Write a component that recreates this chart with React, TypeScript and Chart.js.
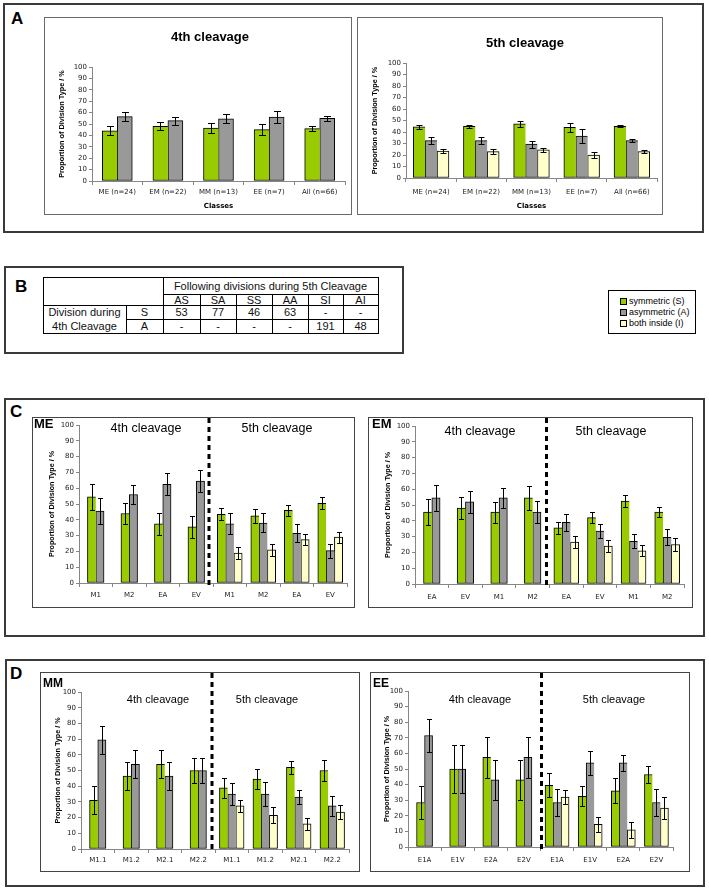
import React, { useEffect, useRef } from 'react';
import { Chart, registerables } from 'chart.js';

Chart.register(...registerables);

const GREEN = '#99cc00';
const GREY = '#999999';
const CREAM = '#ffffcc';
const TICK_FONT = 'DejaVu Sans';
const SANS = 'Liberation Sans';
const Y_TITLE = 'Proportion of Division Type / %';
const N = null;

// ---------- Panel A ----------
const classLabels = ['ME (n=24)', 'EM (n=22)', 'MM (n=13)', 'EE (n=7)', 'All (n=66)'];
const a4Sym = [44, 48, 46.5, 45, 46];
const a4SymErr = [4, 3.7, 4.4, 5, 2];
const a4Asym = [56.5, 53, 54.5, 56, 55];
const a4AsymErr = [4, 3.5, 4, 5.5, 2];
const a5Sym = [44.5, 45, 47, 44, 45];
const a5SymErr = [1.5, 1.5, 2.5, 4, 1];
const a5Asym = [32.5, 32.5, 29.5, 36.5, 32.5];
const a5AsymErr = [3.3, 3, 3, 6, 1.5];
const a5Inside = [23.5, 23, 24.5, 20, 23];
const a5InsideErr = [2, 2, 1.5, 3, 1];

// ---------- Panel B ----------
const bHeader = 'Following divisions during 5th Cleavage';
const bColumns = ['AS', 'SA', 'SS', 'AA', 'SI', 'AI'];
const bRowS = ['53', '77', '46', '63', '-', '-'];
const bRowA = ['-', '-', '-', '-', '191', '48'];

// ---------- Legend ----------
const legendLabels = ['symmetric (S)', 'asymmetric (A)', 'both inside (I)'];
const legendColors = [GREEN, GREY, CREAM];

// ---------- Panel C: ME ----------
const meLabels = ['M1', 'M2', 'EA', 'EV', 'M1', 'M2', 'EA', 'EV'];
const meSym = [54.5, 44, 37.5, 35.5, 43.5, 42.5, 46, 50.5];
const meSymErr = [8, 6.5, 7, 7, 3.7, 4.5, 3.6, 3.8];
const meAsym = [45.5, 56, 62.5, 64.5, 37.5, 38, 31.5, 20.5];
const meAsymErr = [8, 6.3, 7, 7, 6.5, 6, 5.7, 4.5];
const meInside = [N, N, N, N, 19, 21, 27.5, 29];
const meInsideErr = [N, N, N, N, 4, 3.8, 3.7, 3.5];

// ---------- Panel C: EM ----------
const emLabels = ['EA', 'EV', 'M1', 'M2', 'EA', 'EV', 'M1', 'M2'];
const emSym = [45.5, 48, 45.5, 54.5, 35.5, 42, 52.5, 45.5];
const emSymErr = [8, 7, 6.7, 7.5, 3.6, 3.5, 4, 3.4];
const emAsym = [54.5, 52, 54.5, 45.5, 39, 33.5, 27, 29.5];
const emAsymErr = [8, 6.8, 6.5, 7, 5.5, 4.6, 4.4, 5];
const emInside = [N, N, N, N, 26.5, 24, 21, 25];
const emInsideErr = [N, N, N, N, 4, 3.8, 3.5, 4.3];

// ---------- Panel D: MM ----------
const mmLabels = ['M1.1', 'M1.2', 'M2.1', 'M2.2', 'M1.1', 'M1.2', 'M2.1', 'M2.2'];
const mmSym = [31, 46.5, 54, 50, 39, 44.5, 52, 50];
const mmSymErr = [9, 9, 9, 8, 6.5, 6.5, 4.2, 6.5];
const mmAsym = [69.5, 54, 46.5, 50, 35, 35, 33, 27.5];
const mmAsymErr = [9, 9, 9, 8, 7, 7.4, 4.5, 6.5];
const mmInside = [N, N, N, N, 27.5, 21.5, 16, 23.5];
const mmInsideErr = [N, N, N, N, 3.8, 5, 4, 4.6];

// ---------- Panel D: EE ----------
const eeLabels = ['E1A', 'E1V', 'E2A', 'E2V', 'E1A', 'E1V', 'E2A', 'E2V'];
const eeSym = [28.5, 50, 57.5, 43, 39.5, 32.5, 36, 46.5];
const eeSymErr = [10.3, 15.3, 13, 13, 7.7, 6.4, 8, 5.6];
const eeAsym = [71.5, 50, 43, 57.5, 28.5, 54, 54, 28.5];
const eeAsymErr = [10.3, 15.3, 13, 13, 8.5, 7.6, 5.2, 8.5];
const eeInside = [N, N, N, N, 32, 14.5, 11, 25];
const eeInsideErr = [N, N, N, N, 4.5, 5, 5.3, 7.3];

type Series = { data: (number | null)[]; err: (number | null)[]; color: string };
type TextItem = { text: string; x: number; y: number; font: string; align?: CanvasTextAlign };
type Spec = {
  box: { x: number; y: number; w: number; h: number };
  area: { l: number; t: number; r: number; b: number };
  labels: string[];
  series: Series[];
  barW: number;
  capW: number;
  yTitleX: number;
  yTitleSize: number;
  xTitle?: string;
  xTitleY?: number;
  xLabelPad: number;
  tickSize: number;
  texts: TextItem[];
  divider?: { offset: number; top: number };
  borderColor: string;
};

const specs: Spec[] = [
  {
    box: { x: 44, y: 17, w: 308, h: 198 },
    area: { l: 92, t: 67, r: 345, b: 181 },
    labels: classLabels,
    series: [
      { data: a4Sym, err: a4SymErr, color: GREEN },
      { data: a4Asym, err: a4AsymErr, color: GREY },
    ],
    barW: 15, capW: 7, yTitleX: 62, yTitleSize: 7.3,
    xTitle: 'Classes', xTitleY: 206, xLabelPad: 3, tickSize: 7,
    texts: [{ text: '4th cleavage', x: 210, y: 37, font: `bold 13px ${SANS}` }],
    borderColor: '#6a6a6a',
  },
  {
    box: { x: 357, y: 17, w: 306, h: 198 },
    area: { l: 406, t: 63, r: 657, b: 178 },
    labels: classLabels,
    series: [
      { data: a5Sym, err: a5SymErr, color: GREEN },
      { data: a5Asym, err: a5AsymErr, color: GREY },
      { data: a5Inside, err: a5InsideErr, color: CREAM },
    ],
    barW: 11.9, capW: 6, yTitleX: 375, yTitleSize: 7.3,
    xTitle: 'Classes', xTitleY: 206, xLabelPad: 6, tickSize: 7,
    texts: [{ text: '5th cleavage', x: 525, y: 43, font: `bold 13px ${SANS}` }],
    borderColor: '#6a6a6a',
  },
  {
    box: { x: 32, y: 417, w: 323, h: 191 },
    area: { l: 79, t: 425, r: 347, b: 583 },
    labels: meLabels,
    series: [
      { data: meSym, err: meSymErr, color: GREEN },
      { data: meAsym, err: meAsymErr, color: GREY },
      { data: meInside, err: meInsideErr, color: CREAM },
    ],
    barW: 8.3, capW: 5, yTitleX: 52, yTitleSize: 7.2, xLabelPad: 4, tickSize: 7,
    texts: [
      { text: 'ME', x: 34, y: 424, font: `bold 13px ${SANS}`, align: 'left' },
      { text: '4th cleavage', x: 146, y: 429, font: `12.5px ${SANS}` },
      { text: '5th cleavage', x: 277, y: 429, font: `12.5px ${SANS}` },
    ],
    divider: { offset: -4, top: 418 },
    borderColor: '#444',
  },
  {
    box: { x: 368, y: 417, w: 325, h: 191 },
    area: { l: 415, t: 426, r: 684, b: 584 },
    labels: emLabels,
    series: [
      { data: emSym, err: emSymErr, color: GREEN },
      { data: emAsym, err: emAsymErr, color: GREY },
      { data: emInside, err: emInsideErr, color: CREAM },
    ],
    barW: 8.3, capW: 5, yTitleX: 388, yTitleSize: 7.2, xLabelPad: 5, tickSize: 7,
    texts: [
      { text: 'EM', x: 372, y: 424, font: `bold 13px ${SANS}`, align: 'left' },
      { text: '4th cleavage', x: 480, y: 432, font: `12.5px ${SANS}` },
      { text: '5th cleavage', x: 611, y: 432, font: `12.5px ${SANS}` },
    ],
    divider: { offset: -3, top: 418 },
    borderColor: '#444',
  },
  {
    box: { x: 40, y: 672, w: 320, h: 200 },
    area: { l: 81, t: 692, r: 349, b: 849 },
    labels: mmLabels,
    series: [
      { data: mmSym, err: mmSymErr, color: GREEN },
      { data: mmAsym, err: mmAsymErr, color: GREY },
      { data: mmInside, err: mmInsideErr, color: CREAM },
    ],
    barW: 8.2, capW: 5, yTitleX: 58, yTitleSize: 7.2, xLabelPad: 3, tickSize: 7,
    texts: [
      { text: 'MM', x: 43, y: 684, font: `bold 12px ${SANS}`, align: 'left' },
      { text: '4th cleavage', x: 158, y: 700, font: `11px ${SANS}` },
      { text: '5th cleavage', x: 267, y: 700, font: `11px ${SANS}` },
    ],
    divider: { offset: -3, top: 673 },
    borderColor: '#444',
  },
  {
    box: { x: 370, y: 672, w: 320, h: 200 },
    area: { l: 408, t: 691, r: 673, b: 847 },
    labels: eeLabels,
    series: [
      { data: eeSym, err: eeSymErr, color: GREEN },
      { data: eeAsym, err: eeAsymErr, color: GREY },
      { data: eeInside, err: eeInsideErr, color: CREAM },
    ],
    barW: 8, capW: 5, yTitleX: 387, yTitleSize: 7.2, xLabelPad: 5, tickSize: 7,
    texts: [
      { text: 'EE', x: 373, y: 684, font: `bold 12px ${SANS}`, align: 'left' },
      { text: '4th cleavage', x: 480, y: 700, font: `11px ${SANS}` },
      { text: '5th cleavage', x: 614, y: 700, font: `11px ${SANS}` },
    ],
    divider: { offset: 1, top: 673 },
    borderColor: '#444',
  },
];

function BarPanel({ spec }: { spec: Spec }) {
  const ref = useRef<HTMLCanvasElement>(null);
  useEffect(() => {
    if (!ref.current) return;
    const { box, area } = spec;
    const extras = {
      id: 'extras',
      afterDatasetsDraw(chart: any) {
        const ctx = chart.ctx;
        const ys = chart.scales.y;
        ctx.save();
        ctx.strokeStyle = '#000';
        ctx.lineWidth = 1;
        chart.data.datasets.forEach((ds: any, di: number) => {
          const meta = chart.getDatasetMeta(di);
          const errs = spec.series[di].err;
          meta.data.forEach((el: any, i: number) => {
            const v = ds.data[i];
            const e = errs[i];
            if (v == null || e == null) return;
            const x = Math.round(el.x) + 0.5;
            const yt = Math.round(ys.getPixelForValue(v + e)) + 0.5;
            const yb = Math.round(ys.getPixelForValue(v - e)) + 0.5;
            const c = spec.capW / 2;
            ctx.beginPath();
            ctx.moveTo(x, yt); ctx.lineTo(x, yb);
            ctx.moveTo(x - c, yt); ctx.lineTo(x + c, yt);
            ctx.moveTo(x - c, yb); ctx.lineTo(x + c, yb);
            ctx.stroke();
          });
        });
        ctx.restore();
      },
      afterDraw(chart: any) {
        const ctx = chart.ctx;
        ctx.save();
        if (spec.divider) {
          const xs = chart.scales.x;
          const mid = (xs.getPixelForValue(3) + xs.getPixelForValue(4)) / 2 + spec.divider.offset;
          ctx.strokeStyle = '#000';
          ctx.lineWidth = 3;
          ctx.setLineDash([5, 4]);
          ctx.beginPath();
          ctx.moveTo(mid, spec.divider.top - box.y);
          ctx.lineTo(mid, chart.chartArea.bottom + 3);
          ctx.stroke();
          ctx.setLineDash([]);
        }
        ctx.fillStyle = '#000';
        ctx.textBaseline = 'middle';
        spec.texts.forEach((t) => {
          ctx.font = t.font;
          ctx.textAlign = t.align || 'center';
          ctx.fillText(t.text, t.x - box.x, t.y - box.y);
        });
        ctx.restore();
      },
    };

    const n = spec.series.length;
    const datasets = spec.series.map((s, di) => ({
      data: s.data,
      backgroundColor: s.color,
      borderColor: '#000',
      borderSkipped: false,
      borderWidth: (c: any) => {
        const i = c.dataIndex;
        let last = true;
        for (let k = di + 1; k < n; k++) if (spec.series[k].data[i] != null) last = false;
        return { top: 1, left: 1, bottom: 1, right: last ? 1 : 0 };
      },
      barThickness: spec.barW,
      skipNull: true,
    }));

    const xTitleLH = 7 * 1.2;
    const yTitleLH = spec.yTitleSize * 1.2;
    const chart = new Chart(ref.current, {
      type: 'bar',
      data: { labels: spec.labels, datasets },
      options: {
        animation: false,
        responsive: false,
        maintainAspectRatio: false,
        layout: {
          padding: { left: 0, top: area.t - box.y, right: box.x + box.w - area.r, bottom: 0 },
        },
        plugins: { legend: { display: false }, tooltip: { enabled: false }, title: { display: false } },
        scales: {
          x: {
            type: 'category',
            offset: true,
            ticks: {
              font: { family: TICK_FONT, size: spec.tickSize },
              color: '#1a1a1a',
              padding: spec.xLabelPad,
              autoSkip: false,
              maxRotation: 0,
            },
            grid: { display: true, drawOnChartArea: false, drawTicks: true, tickLength: 4, color: '#868686', offset: true },
            border: { display: true, color: '#868686' },
            title: spec.xTitle
              ? {
                  display: true,
                  text: spec.xTitle,
                  font: { family: TICK_FONT, size: 7, weight: 'bold' },
                  color: '#000',
                  padding: { top: 0, bottom: box.y + box.h - (spec.xTitleY || 0) - xTitleLH / 2 },
                }
              : { display: false },
            afterFit: (s: any) => {
              s.height = box.y + box.h - area.b;
              s.paddingLeft = 0;
              s.paddingRight = 0;
            },
          },
          y: {
            min: 0,
            max: 100,
            ticks: {
              stepSize: 10,
              font: { family: TICK_FONT, size: spec.tickSize },
              color: '#1a1a1a',
              padding: 2,
            },
            grid: { display: true, drawOnChartArea: false, drawTicks: true, tickLength: 3, color: '#868686' },
            border: { display: true, color: '#868686' },
            title: {
              display: true,
              text: Y_TITLE,
              font: { family: SANS, size: spec.yTitleSize, weight: 'bold' },
              color: '#000',
              padding: { top: spec.yTitleX - box.x - yTitleLH / 2, bottom: 0 },
            },
            afterFit: (s: any) => {
              s.width = area.l - box.x;
              s.paddingTop = 0;
              s.paddingBottom = 0;
            },
          },
        },
      } as any,
      plugins: [extras],
    });
    return () => chart.destroy();
  }, [spec]);

  const { box } = spec;
  return (
    <>
      <canvas
        ref={ref}
        width={box.w}
        height={box.h}
        style={{ position: 'absolute', left: box.x, top: box.y, width: box.w, height: box.h }}
      />
      <div
        style={{
          position: 'absolute',
          left: box.x,
          top: box.y,
          width: box.w,
          height: box.h,
          border: `1.5px solid ${spec.borderColor}`,
          boxSizing: 'border-box',
          pointerEvents: 'none',
        }}
      />
    </>
  );
}

function Frame({ x, y, w, h }: { x: number; y: number; w: number; h: number }) {
  return (
    <div
      style={{
        position: 'absolute',
        left: x,
        top: y,
        width: w,
        height: h,
        border: '2px solid #3a3a3a',
        boxSizing: 'border-box',
      }}
    />
  );
}

function Letter({ t, x, y }: { t: string; x: number; y: number }) {
  return (
    <div
      style={{
        position: 'absolute',
        left: x,
        top: y,
        fontFamily: SANS,
        fontWeight: 'bold',
        fontSize: 17,
        lineHeight: '17px',
        color: '#000',
      }}
    >
      {t}
    </div>
  );
}

function Line({ x1, y1, x2, y2 }: { x1: number; y1: number; x2: number; y2: number }) {
  return (
    <div
      style={{
        position: 'absolute',
        left: x1,
        top: y1,
        width: Math.max(1, x2 - x1),
        height: Math.max(1, y2 - y1),
        background: '#000',
      }}
    />
  );
}

function Cell({ t, cx, cy }: { t: string; cx: number; cy: number }) {
  return (
    <div
      style={{
        position: 'absolute',
        left: cx - 100,
        top: cy - 7,
        width: 200,
        height: 14,
        lineHeight: '14px',
        textAlign: 'center',
        fontFamily: SANS,
        fontSize: 11,
        color: '#111',
        whiteSpace: 'nowrap',
      }}
    >
      {t}
    </div>
  );
}

function TableB() {
  const cols = [43, 126, 163, 200, 236, 272, 308, 343, 378];
  const rows = [277, 294, 305, 319, 333];
  const dataCols = cols.slice(2);
  const centers = dataCols.slice(0, 6).map((c, i) => (c + dataCols[i + 1]) / 2);
  return (
    <>
      {/* outer */}
      <Line x1={cols[0]} y1={rows[0]} x2={cols[8] + 1} y2={rows[0] + 1} />
      <Line x1={cols[0]} y1={rows[4]} x2={cols[8] + 1} y2={rows[4] + 1} />
      <Line x1={cols[0]} y1={rows[0]} x2={cols[0] + 1} y2={rows[4] + 1} />
      <Line x1={cols[8]} y1={rows[0]} x2={cols[8] + 1} y2={rows[4] + 1} />
      {/* inner horizontals */}
      <Line x1={cols[2]} y1={rows[1]} x2={cols[8]} y2={rows[1] + 1} />
      <Line x1={cols[0]} y1={rows[2]} x2={cols[8]} y2={rows[2] + 1} />
      <Line x1={cols[1]} y1={rows[3]} x2={cols[8]} y2={rows[3] + 1} />
      {/* inner verticals */}
      <Line x1={cols[2]} y1={rows[0]} x2={cols[2] + 1} y2={rows[4]} />
      <Line x1={cols[1]} y1={rows[2]} x2={cols[1] + 1} y2={rows[4]} />
      {dataCols.slice(1, 6).map((c, i) => (
        <Line key={i} x1={c} y1={rows[1]} x2={c + 1} y2={rows[4]} />
      ))}
      <Cell t={bHeader} cx={(cols[2] + cols[8]) / 2} cy={(rows[0] + rows[1]) / 2} />
      {bColumns.map((t, i) => (
        <Cell key={'h' + i} t={t} cx={centers[i]} cy={(rows[1] + rows[2]) / 2 + 0.5} />
      ))}
      <Cell t="Division during" cx={(cols[0] + cols[1]) / 2} cy={(rows[2] + rows[3]) / 2} />
      <Cell t="4th Cleavage" cx={(cols[0] + cols[1]) / 2} cy={(rows[3] + rows[4]) / 2} />
      <Cell t="S" cx={(cols[1] + cols[2]) / 2} cy={(rows[2] + rows[3]) / 2} />
      <Cell t="A" cx={(cols[1] + cols[2]) / 2} cy={(rows[3] + rows[4]) / 2} />
      {bRowS.map((t, i) => (
        <Cell key={'s' + i} t={t} cx={centers[i]} cy={(rows[2] + rows[3]) / 2} />
      ))}
      {bRowA.map((t, i) => (
        <Cell key={'a' + i} t={t} cx={centers[i]} cy={(rows[3] + rows[4]) / 2} />
      ))}
    </>
  );
}

function Legend() {
  return (
    <div
      style={{
        position: 'absolute',
        left: 608,
        top: 290,
        width: 88,
        height: 44,
        border: '1px solid #000',
        boxSizing: 'border-box',
        fontFamily: SANS,
        fontSize: 9,
        color: '#000',
      }}
    >
      {legendLabels.map((l, i) => (
        <div
          key={l}
          style={{
            position: 'absolute',
            left: 11,
            top: 4.5 + i * 11,
            height: 11,
            display: 'flex',
            alignItems: 'center',
            whiteSpace: 'nowrap',
          }}
        >
          <span
            style={{
              display: 'inline-block',
              width: 7,
              height: 7,
              border: '1px solid #000',
              background: legendColors[i],
              boxSizing: 'border-box',
              marginRight: 2,
            }}
          />
          {l}
        </div>
      ))}
    </div>
  );
}

export default function App() {
  return (
    <div style={{ position: 'absolute', left: 0, top: 0, width: 709, height: 890, background: '#fff', overflow: 'hidden' }}>
      <Frame x={3} y={3} w={701} h={230} />
      <Letter t="A" x={11} y={10} />
      <Frame x={4} y={266} w={400} h={88} />
      <Letter t="B" x={15} y={278} />
      <TableB />
      <Legend />
      <Frame x={4} y={398} w={701} h={239} />
      <Letter t="C" x={10} y={403} />
      <Frame x={5} y={659} w={700} h={228} />
      <Letter t="D" x={10} y={665} />
      {specs.map((s, i) => (
        <BarPanel key={i} spec={s} />
      ))}
    </div>
  );
}
